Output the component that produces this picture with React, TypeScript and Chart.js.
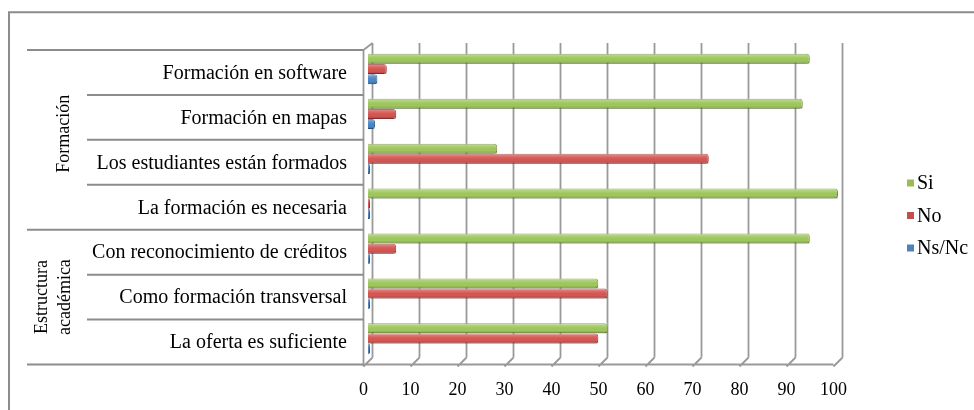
import React, { useEffect, useRef } from "react";
import { Chart, registerables } from "chart.js";

Chart.register(...registerables);

const categories = [
  "Formación en software",
  "Formación en mapas",
  "Los estudiantes están formados",
  "La formación es necesaria",
  "Con reconocimiento de créditos",
  "Como formación transversal",
  "La oferta es suficiente",
];
const seriesNames = ["Si", "No", "Ns/Nc"];
const siValues = [94, 92.5, 27.5, 100, 94, 49, 51];
const noValues = [4, 6, 72.5, 0.3, 6, 51, 49];
const nsncValues = [2, 1.5, 0, 0, 0, 0, 0];
const groupNames = [["Formación"], ["Estructura", "académica"]];
const groupSizes = [4, 3];
const xMin = 0;
const xMax = 100;
const xStep = 10;

const fillColors = ["#9fc85c", "#d65652", "#4b86c6"];
const edgeColors = ["#6f8f34", "#9c3633", "#2f5e91"];
const legendColors = ["#9bbb59", "#c0504d", "#4f81bd"];

const SERIF = "'Liberation Serif', 'DejaVu Serif', serif";
const DX = 4.5;
const DY = 3.5;

const decor = {
  id: "decor",
  beforeDatasetsDraw(chart: any) {
    const ctx = chart.ctx;
    const ca = chart.chartArea;
    const xs = chart.scales.x;
    const ys = chart.scales.y;
    ctx.save();
    ctx.strokeStyle = "#8c8c8c";
    ctx.lineWidth = 2;
    ctx.beginPath();
    ctx.moveTo(9, 410);
    ctx.lineTo(9, 12.3);
    ctx.lineTo(974, 12.3);
    ctx.stroke();

    const x0 = xs.getPixelForValue(xMin);
    const x1 = xs.getPixelForValue(xMax);
    ctx.strokeStyle = "#999999";
    ctx.lineWidth = 1.8;
    ctx.beginPath();
    xs.ticks.forEach((t: any) => {
      const p = xs.getPixelForValue(t.value);
      ctx.moveTo(p + DX, ca.top - DY);
      ctx.lineTo(p + DX, ca.bottom - DY);
      ctx.moveTo(p - DX, ca.bottom + DY + 2);
      ctx.lineTo(p + DX, ca.bottom - DY);
    });
    ctx.moveTo(x0 - DX, ca.bottom + DY);
    ctx.lineTo(x1 - DX, ca.bottom + DY);
    ctx.moveTo(x0 - DX, ca.top + DY);
    ctx.lineTo(x0 - DX, ca.bottom + DY + 2);
    ctx.moveTo(x0 + DX, ca.top - DY);
    ctx.lineTo(x0 + DX, ca.bottom - DY);
    ctx.moveTo(x0 - DX, ca.top + DY);
    ctx.lineTo(x0 + DX, ca.top - DY);
    ctx.stroke();

    const n = categories.length;
    const band = (ca.bottom - ca.top) / n;
    const groupBounds = [0];
    groupSizes.forEach((s, i) => groupBounds.push(groupBounds[i] + s));
    ctx.strokeStyle = "#8c8c8c";
    ctx.lineWidth = 2;
    ctx.beginPath();
    for (let k = 0; k <= n; k++) {
      const y = ca.top + k * band + DY;
      const sx = groupBounds.includes(k) ? 27 : 87;
      ctx.moveTo(sx, y);
      ctx.lineTo(x0 - DX, y);
    }
    ctx.stroke();

    ctx.fillStyle = "#000";
    ctx.font = `20px ${SERIF}`;
    ctx.textAlign = "right";
    ctx.textBaseline = "middle";
    categories.forEach((c, i) => {
      ctx.fillText(c, 347, ys.getPixelForValue(i) + DY + 1);
    });

    ctx.font = `18px ${SERIF}`;
    ctx.textAlign = "center";
    groupNames.forEach((lines, gi) => {
      const yTop = ca.top + groupBounds[gi] * band + DY;
      const yBot = ca.top + groupBounds[gi + 1] * band + DY;
      const cy = (yTop + yBot) / 2 - (lines.length === 1 ? 6 : 0);
      const cx = lines.length === 1 ? 64 : 54;
      ctx.save();
      ctx.translate(cx, cy);
      ctx.rotate(-Math.PI / 2);
      lines.forEach((ln, li) => {
        const off = (li - (lines.length - 1) / 2) * 23;
        ctx.fillText(ln, 0, off);
      });
      ctx.restore();
    });
    ctx.restore();
  },
  afterDatasetsDraw(chart: any) {
    const ctx = chart.ctx;
    ctx.save();
    chart.data.datasets.forEach((ds: any, di: number) => {
      const meta = chart.getDatasetMeta(di);
      meta.data.forEach((el: any) => {
        const { x, y, base, height } = el.getProps(["x", "y", "base", "height"], true);
        const left = Math.min(x, base);
        const w = Math.abs(x - base);
        const top = y - height / 2;
        const g = ctx.createLinearGradient(0, top, 0, top + height);
        g.addColorStop(0, "rgba(255,255,255,0.35)");
        g.addColorStop(0.35, "rgba(255,255,255,0.08)");
        g.addColorStop(0.7, "rgba(0,0,0,0)");
        g.addColorStop(1, "rgba(0,0,0,0.22)");
        ctx.fillStyle = g;
        ctx.fillRect(left, top, w, height);
      });
    });
    ctx.font = `20px ${SERIF}`;
    ctx.textAlign = "left";
    ctx.textBaseline = "middle";
    const ly = [183, 215.5, 248];
    seriesNames.forEach((s, i) => {
      ctx.fillStyle = legendColors[i];
      ctx.fillRect(907, ly[i] - 3.5, 7, 7);
      ctx.fillStyle = "#000";
      ctx.fillText(s, 917, ly[i] + 1);
    });
    ctx.restore();
  },
};

export default function App() {
  const ref = useRef<HTMLCanvasElement | null>(null);
  useEffect(() => {
    if (!ref.current) return;
    const values = [siValues, noValues, nsncValues];
    const chart = new Chart(ref.current, {
      type: "bar",
      data: {
        labels: categories,
        datasets: seriesNames.map((name, i) => ({
          label: name,
          data: values[i],
          backgroundColor: fillColors[i],
          borderColor: edgeColors[i],
          borderWidth: 1,
          borderSkipped: "start",
          borderRadius: { topRight: 3, bottomRight: 3, topLeft: 0, bottomLeft: 0 },
          minBarLength: 2,
          barPercentage: 0.98,
          categoryPercentage: 0.68,
        })),
      },
      options: {
        indexAxis: "y",
        responsive: false,
        animation: false,
        devicePixelRatio: 1,
        layout: { padding: { left: 368, right: 136, top: 46.5, bottom: 0 } },
        plugins: { legend: { display: false }, tooltip: { enabled: false } },
        scales: {
          x: {
            min: xMin,
            max: xMax,
            grid: { display: false, drawTicks: false },
            border: { display: false },
            ticks: {
              stepSize: xStep,
              color: "#000",
              padding: 18,
              labelOffset: -DX,
              maxRotation: 0,
              font: { family: SERIF, size: 18 },
            },
            afterFit: (scale: any) => {
              scale.height = 49;
            },
          },
          y: { display: false },
        },
      },
      plugins: [decor],
    } as any);
    let alive = true;
    const fonts = (document as any).fonts;
    if (fonts && fonts.load) {
      Promise.all([fonts.load("20px 'Liberation Serif'"), fonts.load("18px 'Liberation Serif'")])
        .then(() => {
          if (alive) chart.update();
        })
        .catch(() => {});
    }
    return () => {
      alive = false;
      chart.destroy();
    };
  }, []);
  return (
    <div style={{ position: "fixed", left: 0, top: 0, width: 974, height: 410, background: "#fff" }}>
      <canvas ref={ref} width={974} height={410} style={{ display: "block" }} />
    </div>
  );
}
